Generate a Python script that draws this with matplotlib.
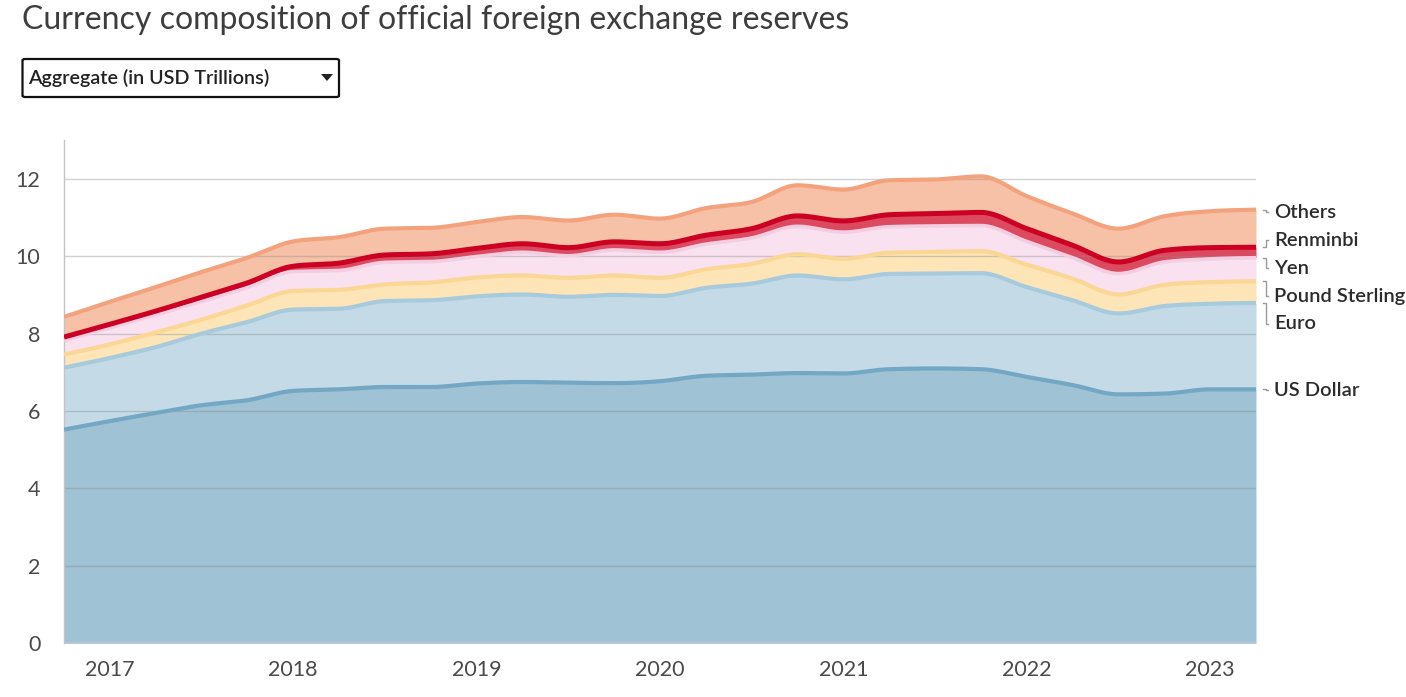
import numpy as np
import matplotlib
matplotlib.use("Agg")
import matplotlib.pyplot as plt
from matplotlib.patches import FancyBboxPatch, Polygon
from matplotlib.lines import Line2D

# ---------------- data (USD trillions, allocated reserves) ----------------
quarters = ["2016Q4",
            "2017Q1", "2017Q2", "2017Q3", "2017Q4",
            "2018Q1", "2018Q2", "2018Q3", "2018Q4",
            "2019Q1", "2019Q2", "2019Q3", "2019Q4",
            "2020Q1", "2020Q2", "2020Q3", "2020Q4",
            "2021Q1", "2021Q2", "2021Q3", "2021Q4",
            "2022Q1", "2022Q2", "2022Q3", "2022Q4",
            "2023Q1", "2023Q2"]
us_dollar = [5.52, 5.74, 5.95, 6.15, 6.28, 6.52, 6.56, 6.62, 6.62, 6.71, 6.75, 6.73, 6.72,
             6.77, 6.91, 6.94, 6.98, 6.97, 7.08, 7.10, 7.08, 6.88, 6.67, 6.43, 6.45, 6.56, 6.56]
euro = [1.60, 1.63, 1.70, 1.85, 2.02, 2.10, 2.08, 2.22, 2.24, 2.25, 2.26, 2.22, 2.28,
        2.20, 2.27, 2.35, 2.52, 2.43, 2.46, 2.45, 2.48, 2.32, 2.19, 2.09, 2.26, 2.21, 2.23]
pound = [0.34, 0.35, 0.38, 0.36, 0.43, 0.48, 0.49, 0.43, 0.46, 0.49, 0.49, 0.49, 0.50,
         0.47, 0.48, 0.51, 0.55, 0.53, 0.55, 0.56, 0.57, 0.58, 0.56, 0.49, 0.55, 0.56, 0.56]
yen = [0.36, 0.43, 0.45, 0.47, 0.46, 0.50, 0.50, 0.57, 0.54, 0.54, 0.60, 0.57, 0.66,
       0.66, 0.65, 0.67, 0.72, 0.69, 0.67, 0.67, 0.66, 0.60, 0.54, 0.54, 0.59, 0.60, 0.61]
renminbi = [0.09, 0.09, 0.10, 0.11, 0.12, 0.14, 0.19, 0.19, 0.20, 0.21, 0.22, 0.21, 0.21,
            0.22, 0.23, 0.24, 0.27, 0.29, 0.31, 0.32, 0.34, 0.33, 0.32, 0.30, 0.30, 0.29, 0.27]
others = [0.52, 0.58, 0.62, 0.65, 0.65, 0.64, 0.67, 0.68, 0.67, 0.68, 0.69, 0.70, 0.70,
          0.65, 0.70, 0.69, 0.79, 0.81, 0.89, 0.88, 0.93, 0.84, 0.82, 0.86, 0.88, 0.94, 0.97]

series_names = ["US Dollar", "Euro", "Pound Sterling", "Yen", "Renminbi", "Others"]
series_values = [us_dollar, euro, pound, yen, renminbi, others]
fill_colors = ["#9fc2d5", "#c4dbe7", "#fde5b8", "#f9e1ef", "#dc4a5f", "#f7c1a8"]
line_colors = ["#74a7c3", "#a8cadd", "#fbd796", "#f4cde3", "#cc0022", "#f3a27e"]
line_widths = [3.0, 3.0, 3.0, 2.6, 3.6, 3.0]
year_ticks = [2017, 2018, 2019, 2020, 2021, 2022, 2023]
y_ticks = [0, 2, 4, 6, 8, 10, 12]
# label y positions (after collision avoidance), in data units
label_y = {"Others": 11.13, "Renminbi": 10.41, "Yen": 9.69,
           "Pound Sterling": 8.97, "Euro": 8.25, "US Dollar": 6.54}

# ---------------- helpers ----------------
def quarter_to_year(q):
    y, qq = q.split("Q")
    return int(y) + (int(qq) - 1) * 0.25   # quarter start


def monotone_x(x, y, n=20):
    """d3.curveMonotoneX-like rendering of a polyline."""
    x = np.asarray(x, float)
    y = np.asarray(y, float)
    h = np.diff(x)
    s = np.diff(y) / h
    m = np.zeros_like(y)
    for i in range(1, len(y) - 1):
        s0, s1 = s[i - 1], s[i]
        p = (s0 * h[i] + s1 * h[i - 1]) / (h[i - 1] + h[i])
        m[i] = (np.sign(s0) + np.sign(s1)) * min(abs(s0), abs(s1), 0.5 * abs(p))
    m[0] = (3 * s[0] - m[1]) / 2
    m[-1] = (3 * s[-1] - m[-2]) / 2
    xs, ys = [], []
    for i in range(len(y) - 1):
        t = np.linspace(0, 1, n, endpoint=False)
        h00 = 2 * t**3 - 3 * t**2 + 1
        h10 = t**3 - 2 * t**2 + t
        h01 = -2 * t**3 + 3 * t**2
        h11 = t**3 - t**2
        xs.append(x[i] + t * h[i])
        ys.append(h00 * y[i] + h10 * h[i] * m[i] + h01 * y[i + 1] + h11 * h[i] * m[i + 1])
    xs.append([x[-1]])
    ys.append([y[-1]])
    return np.concatenate(xs), np.concatenate(ys)


# ---------------- figure ----------------
W, H = 1406, 697
fig = plt.figure(figsize=(W / 100, H / 100), dpi=100)
plt.rcParams["font.family"] = ["Lato", "DejaVu Sans"]

ax = fig.add_axes([64 / W, 1 - 643.3 / H, (1256 - 64) / W, (643.3 - 140) / H])

x = np.array([quarter_to_year(q) for q in quarters])
cum = np.cumsum(np.array(series_values), axis=0)
bounds = [np.zeros_like(x)] + [c for c in cum]

smooth = []
for b in bounds:
    xs, ys = monotone_x(x, b)
    smooth.append(ys)

for k in range(len(series_names)):
    ax.fill_between(xs, smooth[k], smooth[k + 1], color=fill_colors[k], lw=0, zorder=1)
for k in range(len(series_names)):
    ax.plot(xs, smooth[k + 1], color=line_colors[k], lw=line_widths[k], zorder=3,
            solid_capstyle="butt", solid_joinstyle="round")

ax.set_xlim(x[0], x[-1])
ax.set_ylim(0, 13)

for yt in y_ticks[1:]:
    ax.axhline(yt, color="#8a8a8a", lw=1.0, alpha=0.38, zorder=2)
ax.axhline(0, color="#c4c4c4", lw=1.2, zorder=4)

for sp in ["top", "right", "bottom"]:
    ax.spines[sp].set_visible(False)
ax.spines["left"].set_color("#c4c4c4")
ax.spines["left"].set_linewidth(1.0)

ax.set_yticks(y_ticks)
ax.set_yticklabels([str(v) for v in y_ticks], fontsize=15.5, color="#4a4a4a")
ax.set_xticks(year_ticks)
ax.set_xticklabels([str(v) for v in year_ticks], fontsize=15.5, color="#4a4a4a")
ax.tick_params(axis="y", length=0, pad=17)
ax.tick_params(axis="x", length=0, pad=12)

# end labels with connectors
tr_mix = matplotlib.transforms.blended_transform_factory(fig.transFigure, ax.transData)
x0 = 1263 / W
x1 = 1265.5 / W
x2 = 1268 / W
for k, name in enumerate(series_names):
    yv = cum[k][-1]
    yl = label_y[name]
    ln = Line2D([x0, x1, x1, x2], [yv, yv, yl, yl], transform=tr_mix,
                color="#9a9a9a", lw=1.0, clip_on=False)
    fig.add_artist(ln)
    fig.text(1274 / W, yl, name, transform=tr_mix, fontsize=14.5, color="#2b2b2b",
             fontweight="semibold", va="center", ha="left")

# title
fig.text(22 / W, 1 - 20 / H, "Currency composition of official foreign exchange reserves",
         fontsize=23, color="#3d3d3d", va="center", ha="left")

# dropdown box
box = FancyBboxPatch((22.5 / W, 1 - 97 / H), (339 - 22.5) / W, 38 / H,
                     boxstyle="round,pad=0,rounding_size=0.002",
                     transform=fig.transFigure, fc="white", ec="#111111", lw=1.6)
fig.add_artist(box)
fig.text(28 / W, 1 - 78 / H, "Aggregate (in USD Trillions)", fontsize=14.2, color="#222222",
         fontweight="semibold", va="center", ha="left")
tri = Polygon([[321 / W, 1 - 74 / H], [333 / W, 1 - 74 / H], [327 / W, 1 - 81 / H]],
              closed=True, transform=fig.transFigure, fc="#222222", ec="none")
fig.add_artist(tri)

fig.savefig("out.png", dpi=100)
